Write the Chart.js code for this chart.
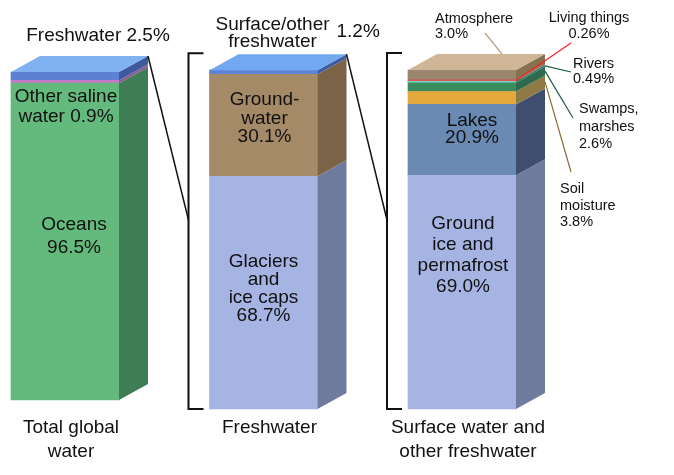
<!DOCTYPE html>
<html>
<head>
<meta charset="utf-8">
<script src="https://cdn.jsdelivr.net/npm/chart.js@4"></script>
<style>
  html, body { margin: 0; padding: 0; background: #fff; }
  canvas { display: block; }
</style>
</head>
<body>
<canvas id="waterChart" width="674" height="475"></canvas>
<script>
// column captions under the bars
var categories = [['Total global', 'water'], 'Freshwater', ['Surface water and', 'other freshwater']];

// segments of each column, bottom to top, in percent
var totalNames = ['Oceans', 'Other saline water', 'Freshwater'];
var totalValues = [96.5, 0.9, 2.5];
var freshNames = ['Glaciers and ice caps', 'Groundwater', 'Surface/other freshwater'];
var freshValues = [68.7, 30.1, 1.2];
var surfaceNames = ['Ground ice and permafrost', 'Lakes', 'Soil moisture', 'Swamps, marshes', 'Rivers', 'Living things', 'Atmosphere'];
var surfaceValues = [69.0, 20.9, 3.8, 2.6, 0.49, 0.26, 3.0];

var columnNames = [totalNames, freshNames, surfaceNames];
var columnValues = [totalValues, freshValues, surfaceValues];

// colours: front face, side face, lid
var frontColors = [
  ['#64ba7c', '#c57ac6', '#5b80d4'],
  ['#a6b4e4', '#a58a68', '#5b84d6'],
  ['#a6b4e4', '#6a89b3', '#e4a93c', '#3a8c5e', '#78d6cc', '#ff2a2a', '#9b8670']
];
var sideColors = [
  ['#3f7d55', '#8c5c96', '#3f5a9c'],
  ['#6f7b9e', '#7a6347', '#3e5da0'],
  ['#6f7b9e', '#3f4e70', '#8f7a45', '#2d6b4c', '#2d7a6c', '#a0504a', '#857250']
];
var topColors = ['#80b2f2', '#72a8f0', '#ceb696'];

// label placement relative to column centre / column top
var labelBlocks = [
  [
    [{lines: ['Oceans', '{v}'], dx: 9, dy: 153, lh: 23}],
    [{lines: ['Other saline', 'water {v}'], dx: 1, dy: 25, lh: 20}],
    [{lines: ['Freshwater {v}'], dx: 33, dy: -36}]
  ],
  [
    [{lines: ['Glaciers', 'and', 'ice caps', '{v}'], dx: 0, dy: 192, lh: 17.7}],
    [{lines: ['Ground-', 'water', '{v}'], dx: 1, dy: 30, lh: 18.5}],
    [{lines: ['Surface/other', 'freshwater'], dx: 9, dy: -45, lh: 17}, {lines: ['{v}'], dx: 73, dy: -38, align: 'left'}]
  ],
  [
    [{lines: ['Ground', 'ice and', 'permafrost', '{v}'], dx: 1, dy: 154, lh: 21}],
    [{lines: ['Lakes', '{v}'], dx: 10, dy: 51, lh: 17}],
    [{lines: ['Soil', 'moisture', '{v}'], dx: 98, dy: 119, lh: 16.5, align: 'left', small: true}],
    [{lines: ['Swamps,', 'marshes', '{v}'], dx: 117, dy: 39, lh: 17.5, align: 'left', small: true}],
    [{lines: ['Rivers', '{v}'], dx: 111, dy: -6, lh: 15, align: 'left', small: true}],
    [{lines: ['Living things', '{v}'], dx: 127, dy: -52, lh: 16, small: true}],
    [{lines: ['Atmosphere', '{v}'], dx: -27, dy: -51, lh: 15, align: 'left', small: true}]
  ]
];
// leader ends are relative to the column's right front edge / column top
var leaders = [
  [null, null, null],
  [null, null, null],
  [null, null,
    {from: 'back', to: [55, 102], color: '#8a6a30'},
    {from: 'back', to: [57, 48], color: '#1e5c3c'},
    {from: 'back', to: [55, 2], color: '#1e5c3c'},
    {from: 'front', to: [55, -27], color: '#ff2020'},
    {from: 'top', to: [-31, -37], color: '#b8a088'}]
];

var DX = 29, DY = -16;
var FONT = '"Liberation Sans", Arial, sans-serif';

function fmt(v) {
  return Number.isInteger(v) ? v.toFixed(1) : String(v);
}

var datasets = [];
var columnSets = [[], [], []];
columnValues.forEach(function(values, c) {
  values.forEach(function(v, s) {
    var data = categories.map(function(_, k) { return k === c ? v : null; });
    columnSets[c].push(datasets.length);
    datasets.push({
      label: columnNames[c][s],
      data: data,
      backgroundColor: frontColors[c][s],
      borderWidth: 0,
      barThickness: 108,
      clip: false,
      yAxisID: c === 0 ? 'yTotal' : 'y'
    });
  });
});

function poly(ctx, pts, color) {
  ctx.beginPath();
  ctx.moveTo(pts[0][0], pts[0][1]);
  for (var i = 1; i < pts.length; i++) ctx.lineTo(pts[i][0], pts[i][1]);
  ctx.closePath();
  ctx.fillStyle = color;
  ctx.fill();
}

function line(ctx, x1, y1, x2, y2, color, w) {
  ctx.beginPath();
  ctx.moveTo(x1, y1);
  ctx.lineTo(x2, y2);
  ctx.strokeStyle = color;
  ctx.lineWidth = w;
  ctx.stroke();
}

var cubePlugin = {
  id: 'cube',
  afterDatasetsDraw: function(chart) {
    var ctx = chart.ctx;
    var geo = [];
    ctx.save();
    columnSets.forEach(function(sets, c) {
      var els = sets.map(function(i) { return chart.getDatasetMeta(i).data[c]; });
      var last = els[els.length - 1];
      var cx = last.x, half = last.width / 2, top = last.y;
      var right = cx + half;
      geo.push({cx: cx, left: cx - half, right: right, top: top, base: els[0].base});
      // side faces
      els.forEach(function(el, s) {
        var r = el.x + el.width / 2;
        poly(ctx, [[r, el.y], [r + DX, el.y + DY], [r + DX, el.base + DY], [r, el.base]], sideColors[c][s]);
      });
      // lid
      poly(ctx, [[cx - half, top], [cx - half + DX, top + DY], [right + DX, top + DY], [right, top]], topColors[c]);

      // leader lines
      els.forEach(function(el, s) {
        var ld = leaders[c][s];
        if (!ld) return;
        var mid = (el.y + el.base) / 2;
        var sx, sy;
        if (ld.from === 'back') { sx = right + DX; sy = mid + DY; }
        else if (ld.from === 'front') { sx = right; sy = mid; }
        else { sx = cx + DX + 11; sy = top + DY; }
        line(ctx, sx, sy, right + ld.to[0], top + ld.to[1], ld.color, 1.2);
      });

      // texts
      els.forEach(function(el, s) {
        var txt = fmt(columnValues[c][s]) + '%';
        labelBlocks[c][s].forEach(function(b) {
          ctx.font = (b.small ? '14.5px ' : '19px ') + FONT;
          ctx.fillStyle = '#111';
          ctx.textAlign = b.align || 'center';
          ctx.textBaseline = 'middle';
          b.lines.forEach(function(t, k) {
            ctx.fillText(t.replace('{v}', txt), cx + b.dx, top + b.dy + k * (b.lh || 18));
          });
        });
      });
    });

    // brackets and connectors between columns
    for (var c = 1; c < geo.length; c++) {
      var g = geo[c], p = geo[c - 1];
      var bx = g.left - 21;
      var bt = g.top + DY - 1, bb = g.base;
      ctx.beginPath();
      ctx.moveTo(bx + 15, bt);
      ctx.lineTo(bx, bt);
      ctx.lineTo(bx, bb);
      ctx.lineTo(bx + 15, bb);
      ctx.strokeStyle = '#111';
      ctx.lineWidth = 2;
      ctx.stroke();
      line(ctx, p.right + DX, p.top + DY, bx, (bt + bb) / 2 - 11, '#111', 1.5);
    }
    ctx.restore();
  }
};

new Chart(document.getElementById('waterChart').getContext('2d'), {
  type: 'bar',
  data: {
    labels: categories,
    datasets: datasets
  },
  options: {
    responsive: false,
    animation: false,
    layout: { padding: { left: 65, right: 212, top: 70, bottom: 0 } },
    plugins: {
      legend: { display: false },
      tooltip: { enabled: false }
    },
    scales: {
      x: {
        type: 'category',
        offset: false,
        stacked: true,
        grid: { display: false, drawTicks: false },
        border: { display: false },
        ticks: {
          color: '#111',
          font: { family: FONT, size: 19, lineHeight: 1.25 },
          padding: 7,
          labelOffset: 6,
          maxRotation: 0,
          autoSkip: false
        },
        afterFit: function(scale) { scale.height = 66; }
      },
      y: {
        display: false,
        stacked: true,
        min: 0,
        max: 100.05
      },
      yTotal: {
        display: false,
        stacked: true,
        min: -2.74,
        max: 100.51
      }
    }
  },
  plugins: [cubePlugin]
});
</script>
</body>
</html>
